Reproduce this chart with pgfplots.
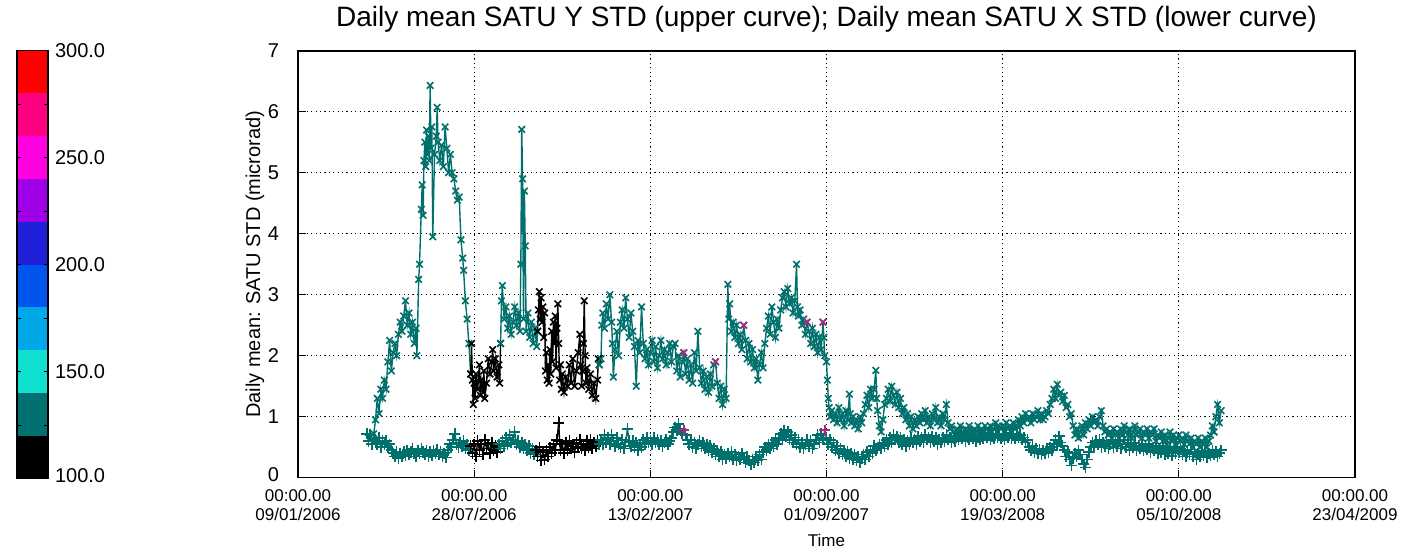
\documentclass[border=0pt]{standalone}
\usepackage{fontspec}
\setmainfont{Liberation Sans}
\usepackage{pgfplots}
\pgfplotsset{compat=1.18}

\definecolor{cb1}{RGB}{0,0,0}
\definecolor{cb2}{RGB}{0,112,112}
\definecolor{cb3}{RGB}{16,224,208}
\definecolor{cb4}{RGB}{0,168,232}
\definecolor{cb5}{RGB}{0,85,238}
\definecolor{cb6}{RGB}{32,32,216}
\definecolor{cb7}{RGB}{160,0,232}
\definecolor{cb8}{RGB}{255,0,224}
\definecolor{cb9}{RGB}{255,0,128}
\definecolor{cb10}{RGB}{255,0,0}
\definecolor{satteal}{RGB}{0,112,108}
\definecolor{satmag}{RGB}{170,40,130}

\pgfplotsset{
  upper/.style={line width=0.7pt, mark=x, mark size=2.3pt, mark options={line width=0.8pt}},
  lower/.style={line width=0.7pt, mark=+, mark size=2.8pt, mark options={line width=0.8pt}},
}

\begin{document}
\begin{tikzpicture}
\path (0pt,0pt) rectangle (712.5pt,278pt);

% colour bar
\begin{axis}[
    at={(8.5pt,39pt)}, anchor=south west,
    scale only axis, width=15.5pt, height=214pt,
    xmin=0, xmax=1, ymin=100, ymax=300,
    xtick=\empty,
    ytick={100,150,200,250,300},
    minor ytick={125,175,225,275},
    yticklabel pos=right,
    yticklabels={\raisebox{3pt}{100.0},150.0,200.0,250.0,\raisebox{-3pt}{300.0}},
    yticklabel style={font=\fontsize{10}{12}\selectfont},
    tick align=inside, major tick length=2pt, minor tick length=2pt,
    tick style={black, line width=0.5pt},
    axis line style={black, line width=0.7pt},
    axis on top,
  ]
  \addplot[fill=cb1, draw=none] coordinates {(0,100) (1,100) (1,120) (0,120)} -- cycle;
  \addplot[fill=cb2, draw=none] coordinates {(0,120) (1,120) (1,140) (0,140)} -- cycle;
  \addplot[fill=cb3, draw=none] coordinates {(0,140) (1,140) (1,160) (0,160)} -- cycle;
  \addplot[fill=cb4, draw=none] coordinates {(0,160) (1,160) (1,180) (0,180)} -- cycle;
  \addplot[fill=cb5, draw=none] coordinates {(0,180) (1,180) (1,200) (0,200)} -- cycle;
  \addplot[fill=cb6, draw=none] coordinates {(0,200) (1,200) (1,220) (0,220)} -- cycle;
  \addplot[fill=cb7, draw=none] coordinates {(0,220) (1,220) (1,240) (0,240)} -- cycle;
  \addplot[fill=cb8, draw=none] coordinates {(0,240) (1,240) (1,260) (0,260)} -- cycle;
  \addplot[fill=cb9, draw=none] coordinates {(0,260) (1,260) (1,280) (0,280)} -- cycle;
  \addplot[fill=cb10, draw=none] coordinates {(0,280) (1,280) (1,300) (0,300)} -- cycle;
\end{axis}

% main plot, x in days since 09/01/2006
\begin{axis}[
    at={(149pt,39.5pt)}, anchor=south west,
    scale only axis, width=528.5pt, height=213.5pt,
    xmin=0, xmax=1200, ymin=0, ymax=7,
    xtick={0,200,400,600,800,1000,1200},
    xticklabels={{00:00.00\\09/01/2006},{00:00.00\\28/07/2006},{00:00.00\\13/02/2007},
      {00:00.00\\01/09/2007},{00:00.00\\19/03/2008},{00:00.00\\05/10/2008},{00:00.00\\23/04/2009}},
    xticklabel style={align=center, font=\fontsize{8.5}{9.5}\selectfont, yshift=-2.5pt},
    ytick={0,1,2,3,4,5,6,7},
    yticklabels={\raisebox{3pt}{0},1,2,3,4,5,6,7},
    yticklabel style={font=\fontsize{10}{12}\selectfont, xshift=-6pt},
    tick pos=left, tick align=inside, major tick length=4pt,
    tick style={black, line width=0.6pt},
    grid=major,
    grid style={black, line width=0.6pt, dash pattern=on 0.6pt off 1.6pt},
    axis line style={black, line width=0.8pt},
    title={Daily mean SATU Y STD (upper curve); Daily mean SATU X STD (lower curve)},
    title style={at={(0.5,1)}, anchor=center, yshift=9.5pt, font=\fontsize{14}{16}\selectfont},
    ylabel={Daily mean: SATU STD (microrad)},
    every axis y label/.style={at={(axis description cs:-0.0407,0.5)}, rotate=90, anchor=center, font=\fontsize{10}{12}\selectfont},
    xlabel={Time},
    every axis x label/.style={at={(axis description cs:0.5,0)}, anchor=center, yshift=-31.5pt, font=\fontsize{8.5}{10}\selectfont},
    clip=false,
  ]

  % ---- upper curve (Y STD) ----
  \addplot[upper, satteal] coordinates {
    (86,0.72)(88,0.95)(90,1.30)(92,1.05)(94,1.45)(96,1.30)(98,1.60)(100,1.45)(102,1.90)(104,2.25)
    (106,1.75)(108,2.05)(110,2.20)(112,2.00)(114,2.35)(116,2.55)(118,2.40)(120,2.65)(122,2.90)(124,2.50)
    (126,2.70)(128,2.35)(130,2.55)(132,2.20)(134,2.45)(135,2.00)(137,3.25)(138,3.50)(140,4.40)(141,4.80)
    (142,4.30)(143,5.20)(144,5.50)(145,5.10)(146,5.70)(147,5.30)(148,5.60)(149,5.20)(150,6.43)(151,5.40)
    (152,5.75)(153,3.95)(155,5.30)(157,5.60)(158,6.07)(159,5.50)(161,5.20)(163,5.45)(165,5.10)(167,5.75)
    (169,5.40)(171,5.00)(173,5.30)(175,5.00)(177,4.90)(179,4.70)(181,4.55)(183,4.60)(185,3.90)(187,3.60)
    (188,3.40)(190,2.90)(192,2.60)(194,2.20)(196,1.70)
  };
  \addplot[upper, black] coordinates {
    (196,1.70)(197,2.20)(198,1.60)(199,1.20)(200,1.55)(201,1.30)(202,1.70)(204,1.45)(206,1.85)(207,1.35)
    (208,1.60)(210,1.40)(211,1.75)(212,1.30)(214,1.55)(216,1.95)(218,1.70)(220,1.90)(221,2.10)(222,1.75)
    (224,1.95)(226,1.65)(228,1.85)(229,1.55)(230,2.20)
  };
  \addplot[upper, satteal] coordinates {
    (230,2.20)(231,2.90)(232,3.15)(234,2.60)(236,2.80)(238,2.45)(240,2.65)(242,2.35)(244,2.55)(246,2.80)
    (248,2.50)(250,2.70)(252,2.40)(253,3.50)(254,5.71)(255,4.90)(256,2.60)(257,4.70)(258,3.80)(259,2.40)
    (261,2.70)(263,2.30)(265,2.55)(267,2.20)(269,2.45)(271,2.15)(272,2.40)
  };
  \addplot[upper, black] coordinates {
    (272,2.40)(273,2.75)(274,3.05)(275,2.60)(276,2.95)(277,2.55)(278,2.80)(279,2.30)(280,2.70)(281,1.75)
    (282,2.05)(283,1.60)(284,1.85)(285,1.55)(286,2.10)(287,1.70)(288,2.40)(289,1.90)(290,2.55)(291,2.20)
    (292,2.65)(293,1.80)(294,2.45)(295,2.85)(296,2.20)(297,1.60)(298,1.85)(299,1.45)(300,1.70)(302,1.40)
    (304,1.65)(306,1.50)(308,1.85)(310,1.55)(312,1.95)(314,1.50)(316,1.75)(318,2.05)(320,2.35)(321,1.85)
    (322,1.50)(323,1.75)(324,2.20)(325,2.90)(326,2.00)(327,1.55)(328,1.80)(330,1.45)(332,1.70)(334,1.35)
    (336,1.55)(338,1.30)(340,1.60)(341,1.95)(342,1.85)
  };
  \addplot[upper, satteal] coordinates {
    (342,1.85)(344,1.95)(345,2.50)(346,2.70)(348,2.45)(350,2.85)(352,2.60)(354,3.00)(356,2.55)(357,2.20)
    (358,1.65)(360,2.10)(362,2.40)(364,2.00)(366,2.55)(368,2.75)(370,2.45)(372,2.95)(374,2.60)(376,2.30)
    (378,2.70)(380,2.40)(382,2.15)(384,1.50)(386,2.25)(388,2.05)(390,2.80)(392,2.20)(394,1.95)(396,2.10)
    (398,1.85)(400,2.05)(402,2.25)(404,1.90)(406,2.15)(408,1.80)(410,2.00)(412,2.25)(414,1.95)(416,2.10)
    (418,1.85)(420,2.05)(422,2.20)(424,1.90)(426,2.15)(428,2.20)(430,1.75)(432,2.00)(434,1.65)(436,1.90)
    (438,2.05)(440,1.70)(442,1.95)(444,1.60)(446,1.85)(448,1.55)(450,2.05)(452,1.75)(454,2.40)(456,1.80)
    (458,1.55)(460,1.75)(462,1.45)(464,1.65)(466,1.40)(468,1.70)(470,1.50)(472,1.85)(474,1.90)(476,1.55)
    (478,1.30)(480,1.50)(482,1.20)(484,1.45)(486,1.30)(488,3.17)(489,2.60)(490,2.85)(492,2.40)(494,2.55)
    (496,2.30)(498,2.50)(500,2.20)(502,2.35)(504,2.10)(506,2.50)(508,2.25)(510,1.95)(512,2.20)(514,1.90)
    (516,2.10)(518,1.80)(520,1.95)(522,1.60)(524,1.85)(526,2.05)(528,1.80)(530,2.20)(532,2.45)(534,2.65)
    (536,2.35)(538,2.80)(540,2.55)(542,2.30)(544,2.60)(546,2.45)(548,2.75)(550,2.95)(552,3.05)(554,2.80)
    (556,3.10)(558,2.85)(560,2.95)(562,2.70)(564,2.90)(566,3.50)(567,2.80)(568,2.65)(570,2.75)(572,2.50)
    (574,2.60)(576,2.35)(578,2.55)(580,2.40)(582,2.20)(584,2.45)(586,2.15)(588,2.35)(590,2.05)(592,2.30)
    (594,2.10)(596,2.55)(597,2.30)(598,2.00)(600,1.90)(601,1.60)(602,1.30)(603,1.15)(604,1.00)(606,1.10)
    (608,0.95)(610,1.05)(612,0.90)(614,1.15)(616,0.95)(618,1.05)(620,0.85)(622,1.10)(624,0.95)(626,1.37)
    (627,1.05)(628,0.90)(630,1.00)(632,0.85)(634,0.95)(636,0.80)(638,1.00)(640,0.90)(642,1.05)(644,1.20)
    (646,1.35)(648,1.15)(650,1.45)(652,1.30)(654,1.45)(656,1.76)(657,1.30)(658,1.10)(660,0.85)(662,0.75)
    (664,0.95)(666,1.20)(668,1.30)(670,1.45)(672,1.25)(674,1.50)(676,1.35)(678,1.20)(680,1.40)(682,1.15)
    (684,1.30)(686,1.05)(688,1.15)(690,0.95)(692,1.05)(694,0.85)(696,1.00)(698,0.80)(700,0.95)(702,0.85)
    (704,1.00)(706,0.90)(708,1.05)(710,0.95)(712,1.10)(714,0.90)(716,1.00)(718,0.85)(720,1.05)(722,0.95)
    (724,1.15)(726,0.90)(728,1.00)(730,0.85)(732,1.05)(734,0.95)(736,1.20)(738,0.90)(740,0.80)(742,0.85)
    (744,0.75)(746,0.70)(748,0.80)(750,0.70)(752,0.85)(754,0.75)(756,0.65)(758,0.80)(760,0.70)(762,0.85)
    (764,0.75)(766,0.70)(768,0.80)(770,0.75)(772,0.85)(774,0.70)(776,0.80)(778,0.75)(780,0.85)(782,0.80)
    (784,0.70)(786,0.85)(788,0.75)(790,0.80)(792,0.90)(794,0.75)(796,0.85)(798,0.80)(800,0.85)(802,0.75)
    (804,0.90)(806,0.80)(808,0.85)(810,0.75)(812,0.90)(814,0.80)(816,0.85)(818,0.95)(820,0.85)(822,1.00)
    (824,0.90)(826,1.05)(828,0.95)(830,1.00)(832,0.90)(834,1.05)(836,0.95)(838,1.00)(840,1.10)(842,0.95)
    (844,1.05)(846,0.95)(848,1.00)(850,1.10)(852,1.05)(854,1.20)(856,1.30)(858,1.45)(860,1.30)(862,1.53)
    (864,1.35)(866,1.40)(868,1.25)(870,1.35)(872,1.15)(874,1.20)(876,1.00)(878,1.05)(880,0.85)(882,0.70)
    (884,0.80)(886,0.65)(888,0.75)(890,0.85)(892,0.70)(894,0.90)(896,0.80)(898,0.95)(900,0.85)(902,1.00)
    (904,0.90)(906,0.95)(908,0.85)(910,1.00)(912,1.10)(914,0.85)(916,0.75)(918,0.80)(920,0.70)(922,0.75)
    (924,0.65)(926,0.80)(928,0.70)(930,0.75)(932,0.65)(934,0.80)(936,0.70)(938,0.85)(940,0.75)(942,0.70)
    (944,0.80)(946,0.65)(948,0.75)(950,0.85)(952,0.70)(954,0.75)(956,0.80)(958,0.65)(960,0.75)(962,0.70)
    (964,0.80)(966,0.65)(968,0.75)(970,0.70)(972,0.80)(974,0.60)(976,0.70)(978,0.65)(980,0.75)(982,0.60)
    (984,0.70)(986,0.55)(988,0.65)(990,0.75)(992,0.60)(994,0.70)(996,0.55)(998,0.65)(1000,0.70)(1002,0.60)
    (1004,0.65)(1006,0.55)(1008,0.70)(1010,0.60)(1012,0.55)(1014,0.65)(1016,0.50)(1018,0.60)(1020,0.55)(1022,0.65)
    (1024,0.50)(1026,0.60)(1028,0.55)(1030,0.65)(1032,0.50)(1034,0.60)(1036,0.70)(1038,0.85)(1040,0.75)(1042,1.00)
    (1044,1.20)(1046,0.90)(1048,1.10)
  };

  % ---- lower curve (X STD) ----
  \addplot[lower, satteal] coordinates {
    (78,0.72)(80,0.60)(82,0.70)(84,0.55)(86,0.65)(88,0.60)(90,0.55)(92,0.65)(94,0.50)(96,0.60)
    (98,0.55)(100,0.60)(102,0.50)(104,0.55)(106,0.45)(108,0.40)(110,0.35)(112,0.42)(114,0.32)(116,0.40)
    (118,0.35)(120,0.42)(122,0.36)(124,0.45)(126,0.38)(128,0.42)(130,0.48)(132,0.40)(134,0.35)(136,0.45)
    (138,0.40)(140,0.48)(142,0.42)(144,0.38)(146,0.45)(148,0.35)(150,0.42)(152,0.36)(154,0.44)(156,0.40)
    (158,0.46)(160,0.38)(162,0.42)(164,0.35)(166,0.40)(168,0.33)(170,0.45)(172,0.55)(174,0.50)(176,0.62)
    (178,0.72)(180,0.55)(182,0.50)(184,0.58)(186,0.52)(188,0.60)(190,0.48)(192,0.55)(194,0.45)(196,0.52)
  };
  \addplot[lower, black] coordinates {
    (196,0.52)(198,0.40)(200,0.55)(202,0.35)(204,0.60)(206,0.45)(208,0.55)(210,0.38)(212,0.62)(214,0.48)
    (216,0.55)(218,0.40)(220,0.58)(222,0.45)(224,0.52)(226,0.42)(228,0.55)
  };
  \addplot[lower, satteal] coordinates {
    (228,0.55)(230,0.48)(232,0.60)(234,0.52)(236,0.65)(238,0.55)(240,0.70)(242,0.58)(244,0.62)(246,0.75)
    (248,0.55)(250,0.60)(252,0.50)(254,0.58)(256,0.48)(258,0.55)(260,0.45)(262,0.52)(264,0.40)(266,0.48)
    (268,0.38)(270,0.45)
  };
  \addplot[lower, black] coordinates {
    (270,0.45)(272,0.35)(274,0.50)(276,0.28)(278,0.42)(280,0.30)(282,0.45)(284,0.35)(286,0.50)(288,0.40)
    (290,0.55)(292,0.45)(294,0.62)(296,0.90)(297,0.60)(298,0.45)(300,0.55)(302,0.40)(304,0.58)(306,0.45)
    (308,0.60)(310,0.48)(312,0.55)(314,0.42)(316,0.58)(318,0.50)(320,0.62)(322,0.48)(324,0.55)(326,0.45)
    (328,0.60)(330,0.50)(332,0.62)(334,0.48)(336,0.58)(338,0.52)(340,0.60)(342,0.55)
  };
  \addplot[lower, satteal] coordinates {
    (342,0.55)(344,0.62)(346,0.55)(348,0.70)(350,0.58)(352,0.65)(354,0.55)(356,0.70)(358,0.60)(360,0.52)
    (362,0.65)(364,0.55)(366,0.50)(368,0.62)(370,0.48)(372,0.58)(374,0.80)(376,0.60)(378,0.52)(380,0.60)
    (382,0.50)(384,0.58)(386,0.45)(388,0.55)(390,0.50)(392,0.62)(394,0.55)(396,0.65)(398,0.58)(400,0.60)
    (402,0.55)(404,0.65)(406,0.58)(408,0.62)(410,0.55)(412,0.60)(414,0.52)(416,0.58)(418,0.62)(420,0.55)
    (422,0.60)(424,0.65)(426,0.75)(428,0.82)(430,0.78)(432,0.88)(434,0.80)(436,0.72)(438,0.78)(440,0.70)
    (442,0.62)(444,0.55)(446,0.62)(448,0.50)(450,0.58)(452,0.48)(454,0.55)(456,0.60)(458,0.52)(460,0.58)
    (462,0.48)(464,0.55)(466,0.45)(468,0.52)(470,0.42)(472,0.48)(474,0.38)(476,0.45)(478,0.35)(480,0.42)
    (482,0.30)(484,0.38)(486,0.32)(488,0.40)(490,0.35)(492,0.42)(494,0.30)(496,0.38)(498,0.28)(500,0.35)
    (502,0.30)(504,0.40)(506,0.32)(508,0.25)(510,0.35)(512,0.28)(514,0.22)(516,0.30)(518,0.25)(520,0.35)
    (522,0.28)(524,0.38)(526,0.30)(528,0.42)(530,0.50)(532,0.45)(534,0.55)(536,0.48)(538,0.58)(540,0.52)
    (542,0.62)(544,0.55)(546,0.65)(548,0.72)(550,0.62)(552,0.78)(554,0.68)(556,0.75)(558,0.62)(560,0.70)
    (562,0.58)(564,0.66)(566,0.55)(568,0.62)(570,0.50)(572,0.58)(574,0.48)(576,0.55)(578,0.62)(580,0.52)
    (582,0.60)(584,0.48)(586,0.55)(588,0.62)(590,0.70)(592,0.58)(594,0.72)(596,0.62)(598,0.78)(600,0.65)
    (602,0.55)(604,0.62)(606,0.50)(608,0.58)(610,0.45)(612,0.52)(614,0.40)(616,0.48)(618,0.38)(620,0.45)
    (622,0.35)(624,0.42)(626,0.32)(628,0.40)(630,0.30)(632,0.38)(634,0.28)(636,0.35)(638,0.25)(640,0.32)
    (642,0.38)(644,0.30)(646,0.42)(648,0.35)(650,0.45)(652,0.40)(654,0.52)(656,0.45)(658,0.50)(660,0.55)
    (662,0.48)(664,0.58)(666,0.52)(668,0.62)(670,0.55)(672,0.65)(674,0.58)(676,0.70)(678,0.62)(680,0.68)
    (682,0.58)(684,0.65)(686,0.55)(688,0.62)(690,0.52)(692,0.60)(694,0.55)(696,0.65)(698,0.58)(700,0.62)
    (702,0.55)(704,0.68)(706,0.60)(708,0.65)(710,0.58)(712,0.70)(714,0.62)(716,0.66)(718,0.58)(720,0.68)
    (722,0.60)(724,0.65)(726,0.55)(728,0.62)(730,0.58)(732,0.66)(734,0.60)(736,0.70)(738,0.62)(740,0.66)
    (742,0.58)(744,0.65)(746,0.60)(748,0.68)(750,0.62)(752,0.70)(754,0.64)(756,0.68)(758,0.60)(760,0.66)
    (762,0.62)(764,0.70)(766,0.64)(768,0.68)(770,0.60)(772,0.66)(774,0.62)(776,0.70)(778,0.65)(780,0.72)
    (782,0.66)(784,0.70)(786,0.62)(788,0.68)(790,0.64)(792,0.72)(794,0.66)(796,0.70)(798,0.64)(800,0.68)
    (802,0.62)(804,0.70)(806,0.66)(808,0.72)(810,0.65)(812,0.70)(814,0.64)(816,0.72)(818,0.66)(820,0.70)
    (822,0.62)(824,0.66)(826,0.58)(828,0.62)(830,0.50)(832,0.45)(834,0.52)(836,0.42)(838,0.48)(840,0.40)
    (842,0.46)(844,0.38)(846,0.45)(848,0.40)(850,0.48)(852,0.42)(854,0.50)(856,0.45)(858,0.55)(860,0.62)
    (862,0.55)(864,0.68)(866,0.58)(868,0.52)(870,0.45)(872,0.35)(874,0.42)(876,0.30)(878,0.20)(880,0.32)
    (882,0.40)(884,0.35)(886,0.45)(888,0.38)(890,0.30)(892,0.22)(894,0.17)(896,0.30)(898,0.42)(900,0.50)
    (902,0.58)(904,0.52)(906,0.60)(908,0.55)(910,0.62)(912,0.50)(914,0.58)(916,0.52)(918,0.60)(920,0.48)
    (922,0.55)(924,0.62)(926,0.50)(928,0.58)(930,0.52)(932,0.60)(934,0.48)(936,0.55)(938,0.62)(940,0.50)
    (942,0.58)(944,0.45)(946,0.55)(948,0.50)(950,0.58)(952,0.45)(954,0.52)(956,0.48)(958,0.56)(960,0.44)
    (962,0.52)(964,0.46)(966,0.55)(968,0.42)(970,0.50)(972,0.45)(974,0.52)(976,0.40)(978,0.48)(980,0.42)
    (982,0.50)(984,0.38)(986,0.46)(988,0.40)(990,0.48)(992,0.36)(994,0.45)(996,0.40)(998,0.50)(1000,0.42)
    (1002,0.48)(1004,0.38)(1006,0.45)(1008,0.35)(1010,0.42)(1012,0.38)(1014,0.46)(1016,0.35)(1018,0.42)(1020,0.30)
    (1022,0.40)(1024,0.35)(1026,0.44)(1028,0.36)(1030,0.42)(1032,0.33)(1034,0.40)(1036,0.36)(1038,0.45)(1040,0.38)
    (1042,0.42)(1044,0.35)(1046,0.40)(1048,0.45)
  };

  % days whose colour value fell in the magenta band
  \addplot[upper, satmag, only marks] coordinates {(438,2.05)(474,1.90)(506,2.50)(578,2.55)(596,2.55)};
  \addplot[lower, satmag, only marks] coordinates {(438,0.78)(598,0.78)};
\end{axis}
\end{tikzpicture}
\end{document}
